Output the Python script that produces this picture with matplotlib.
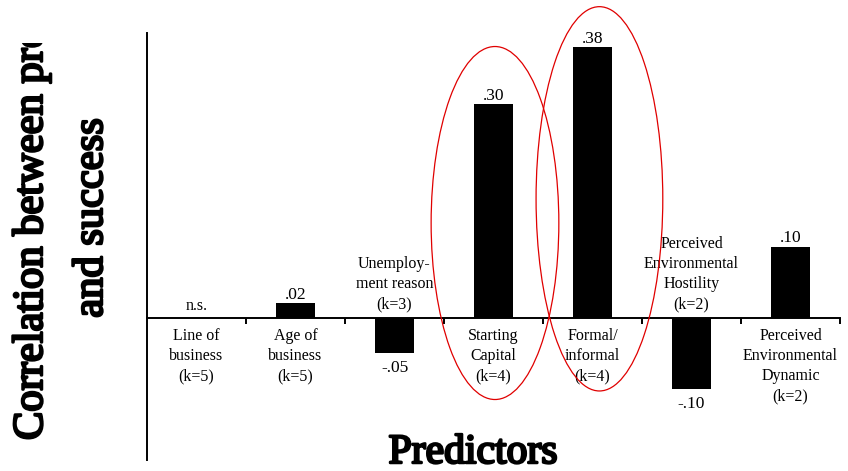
# bar chart of predictor/success correlations (meta-analysis summary)
import numpy as np
import matplotlib.pyplot as plt
import matplotlib.patheffects as pe
from matplotlib.patches import Ellipse
from matplotlib.transforms import Bbox, TransformedBbox

plt.rcParams['font.family'] = ['Liberation Serif', 'DejaVu Serif']

predictors = ["Line of\nbusiness\n(k=5)",
              "Age of\nbusiness\n(k=5)",
              "Unemploy-\nment reason\n(k=3)",
              "Starting\nCapital\n(k=4)",
              "Formal/\ninformal\n(k=4)",
              "Perceived\nEnvironmental\nHostility\n(k=2)",
              "Perceived\nEnvironmental\nDynamic\n(k=2)"]
# nan = not significant
correlations = [np.nan, 0.02, -0.05, 0.30, 0.38, -0.10, 0.10]


def corr_label(v):
    if np.isnan(v):
        return "n.s."
    return f"{v:.2f}".replace("0.", ".")


fig = plt.figure(figsize=(8.48, 4.71), dpi=100)
ax = fig.add_axes([147 / 848, 11 / 471, 693 / 848, 427 / 471])

x = np.arange(len(predictors))
heights = np.nan_to_num(correlations)
ax.bar(x, heights, width=0.4, color='black', zorder=3)

ax.set_xlim(-0.5, len(predictors) - 0.5)
ax.set_ylim(-0.2, 0.4)

# zero line as the x axis, ticks between categories
ax.spines['bottom'].set_position(('data', 0))
for side in ['top', 'right']:
    ax.spines[side].set_visible(False)
ax.spines['bottom'].set_linewidth(1.4)
ax.spines['left'].set_linewidth(1.4)
ax.set_xticks(np.arange(0.5, len(predictors), 1.0))
ax.set_xticklabels([])
ax.tick_params(axis='x', direction='out', length=4, width=1.4)
ax.set_yticks([])

for i, v in enumerate(correlations):
    # value labels
    if np.isnan(v):
        ax.annotate(corr_label(v), (i, 0), xytext=(0, 5.8), textcoords='offset points',
                    ha='center', va='baseline', fontsize=11.5)
    elif v >= 0:
        ax.annotate(corr_label(v), (i, v), xytext=(0, 0), textcoords='offset points',
                    ha='center', va='bottom', fontsize=12.5)
    else:
        ax.annotate(corr_label(v), (i, v), xytext=(0, -5), textcoords='offset points',
                    ha='center', va='top', fontsize=12.5)
    # category names go on the opposite side of the bar
    if not np.isnan(v) and v < 0:
        ax.annotate(predictors[i], (i, 0), xytext=(0, 3.6), textcoords='offset points',
                    ha='center', va='bottom', fontsize=11.5, linespacing=1.35)
    else:
        ax.annotate(predictors[i], (i, 0), xytext=(0, -7.5), textcoords='offset points',
                    ha='center', va='top', fontsize=11.5, linespacing=1.35)

# red rings around the two strongest predictors
for cx, cy, w, h in [(3.015, 0.133, 1.29, 0.496), (4.07, 0.167, 1.28, 0.54)]:
    ax.add_patch(Ellipse((cx, cy), w, h, fill=False, edgecolor='#e00000',
                         linewidth=0.9, clip_on=False, zorder=4))

# heavy titles: regular serif thickened with a stroke
heavy = [pe.withStroke(linewidth=1.8, foreground='black')]

# y title, first line cut off at the height of the plot
t1 = fig.text(42 / 848, 31 / 471, "Correlation between predictors", rotation=90,
              rotation_mode='anchor', ha='left', va='baseline',
              fontsize=30.6, path_effects=heavy)
t1.set_clip_box(TransformedBbox(Bbox([[0, 0], [0.17, 428 / 471]]), fig.transFigure))
t1.set_clip_on(True)
fig.text(102 / 848, 253 / 471, "and success", rotation=90, rotation_mode='anchor',
         ha='center', va='baseline', fontsize=30.6, path_effects=heavy)

fig.text(473 / 848, 8 / 471, "Predictors", ha='center', va='baseline',
         fontsize=30, path_effects=heavy)

fig.savefig('out.png', dpi=100)
